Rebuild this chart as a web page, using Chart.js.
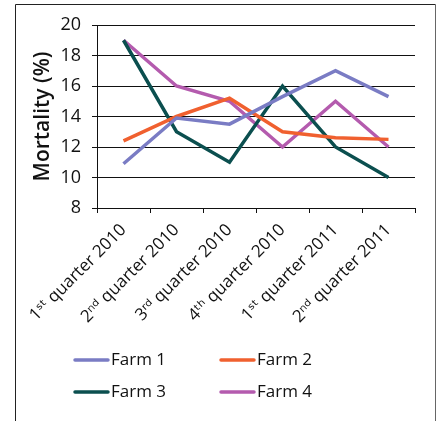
<!DOCTYPE html>
<html><head><meta charset="utf-8">
<script src="https://cdn.jsdelivr.net/npm/chart.js@4"></script>
<style>html,body{margin:0;padding:0;background:#fff}</style>
</head><body>
<canvas id="c" width="441" height="421" style="width:441px;height:421px;display:block"></canvas>
<script>
const categories = ['1\u02E2\u1D57 quarter 2010', '2\u207F\u1D48 quarter 2010', '3\u02B3\u1D48 quarter 2010', '4\u1D57\u02B0 quarter 2010', '1\u02E2\u1D57 quarter 2011', '2\u207F\u1D48 quarter 2011'];
const seriesNames = ['Farm 1', 'Farm 2', 'Farm 3', 'Farm 4'];
const farm1 = [10.9, 13.9, 13.5, 15.3, 17.0, 15.3];
const farm2 = [12.4, 14.0, 15.2, 13.0, 12.6, 12.5];
const farm3 = [19.0, 13.0, 11.0, 16.0, 12.0, 10.0];
const farm4 = [19.0, 16.0, 15.0, 12.0, 15.0, 12.0];
const seriesColors = ['#7A7CC4', '#F0602F', '#0B4F4F', '#B45BAE'];
const yMin = 8, yMax = 20, yStep = 2;
const yTitle = 'Mortality (%)';

const FONT = "'Open Sans', 'DejaVu Sans', sans-serif";

const frame = {
  id: 'frame',
  beforeDraw(chart) {
    const ctx = chart.ctx;
    ctx.save();
    ctx.fillStyle = '#fff';
    ctx.fillRect(0, 0, chart.width, chart.height);
    ctx.strokeStyle = '#222';
    ctx.lineWidth = 1;
    ctx.beginPath();
    ctx.moveTo(15.5, chart.height);
    ctx.lineTo(15.5, 4.5);
    ctx.lineTo(435.5, 4.5);
    ctx.stroke();
    ctx.strokeStyle = '#666';
    ctx.beginPath();
    ctx.moveTo(435.5, 4.5);
    ctx.lineTo(435.5, chart.height);
    ctx.stroke();
    ctx.restore();
  }
};

const legendPlugin = {
  id: 'gridLegend',
  afterDraw(chart) {
    const ctx = chart.ctx;
    ctx.save();
    ctx.font = '17px ' + FONT;
    ctx.textBaseline = 'middle';
    ctx.textAlign = 'left';
    chart.data.datasets.forEach((ds, i) => {
      const col = i % 2, row = Math.floor(i / 2);
      const x0 = 75 + col * 146;
      const y = 360 + row * 32;
      ctx.strokeStyle = ds.borderColor;
      ctx.lineWidth = 3.5;
      ctx.lineCap = 'round';
      ctx.beginPath();
      ctx.moveTo(x0, y);
      ctx.lineTo(x0 + 33, y);
      ctx.stroke();
      ctx.fillStyle = '#111';
      ctx.fillText(ds.label, x0 + 36, y);
    });
    ctx.restore();
  }
};

new Chart(document.getElementById('c'), {
  type: 'line',
  data: {
    labels: categories,
    datasets: [farm1, farm2, farm3, farm4].map((d, i) => ({
      label: seriesNames[i],
      data: d,
      borderColor: seriesColors[i],
      backgroundColor: seriesColors[i],
      borderWidth: 3.5,
      pointRadius: 0,
      tension: 0,
      fill: false
    }))
  },
  options: {
    responsive: false,
    animation: false,
    layout: { padding: { left: 0, right: 26, top: 25, bottom: 0 } },
    plugins: { legend: { display: false }, tooltip: { enabled: false } },
    scales: {
      x: {
        offset: true,
        grid: { offset: true, drawOnChartArea: false, drawTicks: true, tickLength: 5, color: '#111' },
        border: { color: '#111', width: 1 },
        ticks: { minRotation: 45, maxRotation: 45, color: '#111', font: { family: FONT, size: 17 }, padding: 7 },
        afterFit(scale) { scale.height = 213; }
      },
      y: {
        min: yMin, max: yMax,
        ticks: { stepSize: yStep, color: '#111', font: { family: FONT, size: 18 }, padding: 11 },
        grid: { color: '#111', tickLength: 5 },
        border: { color: '#111', width: 1 },
        title: { display: true, text: yTitle, color: '#111', font: { family: FONT, size: 21, weight: '600' }, padding: { top: 30, bottom: 0 } },
        afterFit(scale) { scale.width = 97; }
      }
    }
  },
  plugins: [frame, legendPlugin]
});
</script>
</body></html>
